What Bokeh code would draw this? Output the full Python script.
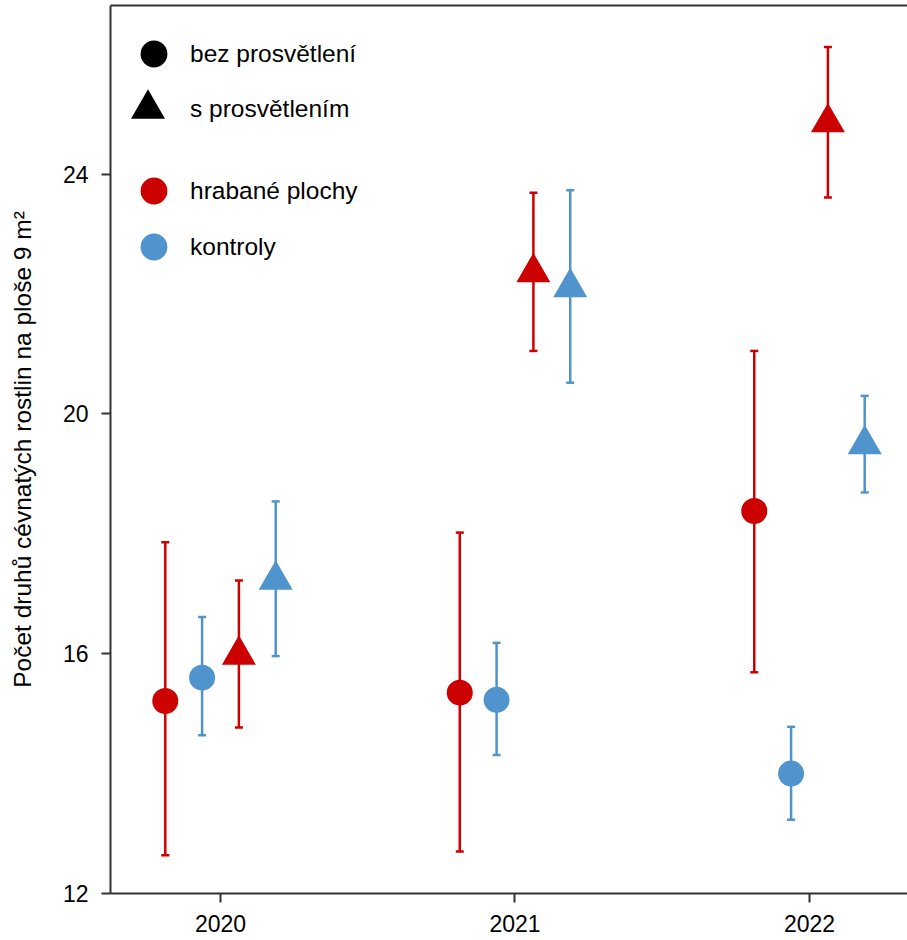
from bokeh.plotting import figure
from bokeh.models import (ColumnDataSource, Range1d, FixedTicker, LinearAxis,
                          Whisker, TeeHead, Legend, LegendItem)
from bokeh.transform import dodge
from bokeh.embed import file_html
from bokeh.resources import INLINE

# ---------------- data ----------------
years = [2020, 2021, 2022]

# hrabané plochy, bez prosvětlení (red circles)
red_bez_mean = [15.21, 15.35, 18.38]
red_bez_lo = [12.64, 12.70, 15.69]
red_bez_hi = [17.86, 18.02, 21.05]

# kontroly, bez prosvětlení (blue circles)
blue_bez_mean = [15.60, 15.23, 14.00]
blue_bez_lo = [14.64, 14.31, 13.23]
blue_bez_hi = [16.61, 16.18, 14.78]

# hrabané plochy, s prosvětlením (red triangles)
red_s_mean = [15.98, 22.36, 24.86]
red_s_lo = [14.77, 21.05, 23.61]
red_s_hi = [17.22, 23.69, 26.12]

# kontroly, s prosvětlením (blue triangles)
blue_s_mean = [17.23, 22.11, 19.49]
blue_s_lo = [15.96, 20.52, 18.69]
blue_s_hi = [18.54, 23.73, 20.30]

x_ticks = [2020, 2021, 2022]
y_ticks = [12, 16, 20, 24]
legend_labels = ["bez prosvětlení", "s prosvětlením", "hrabané plochy", "kontroly"]
y_label = "Počet druhů cévnatých rostlin na ploše 9 m²"

RED = "#CD0000"
BLUE = "#4F94CD"
AXIS = "#333333"
FONT = "Liberation Sans"

p = figure(width=907, height=940,
           x_range=Range1d(2019.6265, 2022.3328),
           y_range=Range1d(12, 26.812),
           output_backend="svg", toolbar_location=None,
           min_border_left=110, min_border_right=0,
           min_border_top=5, min_border_bottom=47)
p.grid.visible = False
p.outline_line_color = None
p.background_fill_color = "white"
p.border_fill_color = "white"

series = [
    (red_bez_mean, red_bez_lo, red_bez_hi, RED, "circle", 26, -0.1875),
    (blue_bez_mean, blue_bez_lo, blue_bez_hi, BLUE, "circle", 26, -0.0625),
    (red_s_mean, red_s_lo, red_s_hi, RED, "triangle", 34, 0.0625),
    (blue_s_mean, blue_s_lo, blue_s_hi, BLUE, "triangle", 34, 0.1875),
]

for mean, lo, hi, col, marker, size, off in series:
    src = ColumnDataSource(dict(year=years, mean=mean, lo=lo, hi=hi))
    xs = dodge("year", off, range=p.x_range)
    w = Whisker(source=src, base=xs, lower="lo", upper="hi",
                line_color=col, line_width=2.5, level="underlay",
                upper_head=TeeHead(size=8, line_color=col, line_width=2.5),
                lower_head=TeeHead(size=8, line_color=col, line_width=2.5))
    p.add_layout(w)
    p.scatter(x=xs, y="mean", source=src, marker=marker, size=size,
              fill_color=col, line_color=None)

# axes
for ax in (p.xaxis[0], p.yaxis[0]):
    ax.axis_line_color = AXIS
    ax.axis_line_width = 2
    ax.major_tick_line_color = AXIS
    ax.major_tick_line_width = 2
    ax.major_tick_out = 9
    ax.major_tick_in = 0
    ax.minor_tick_line_color = None
    ax.major_label_text_font = FONT
    ax.major_label_text_font_size = "23px"
    ax.major_label_text_color = "black"

p.xaxis.ticker = FixedTicker(ticks=x_ticks)
p.yaxis.ticker = FixedTicker(ticks=y_ticks)
p.xaxis.major_label_standoff = 12
p.yaxis.major_label_standoff = 13
p.yaxis.axis_label = y_label
p.yaxis.axis_label_text_font = FONT
p.yaxis.axis_label_text_font_size = "24.5px"
p.yaxis.axis_label_text_font_style = "normal"
p.yaxis.axis_label_text_color = "black"
p.yaxis.axis_label_standoff = 24

top = LinearAxis(ticker=FixedTicker(ticks=[]), axis_line_color=AXIS,
                 axis_line_width=2, major_tick_line_color=None,
                 minor_tick_line_color=None, major_label_text_font_size="0px")
p.add_layout(top, "above")

# legend keys (renderers with a single NaN point: never drawn in the plot)
nan = float("nan")
r_c = p.scatter(x=[nan], y=[nan], marker="circle", fill_color="black", line_color=None)
r_t = p.scatter(x=[nan], y=[nan], marker="triangle", fill_color="black", line_color=None)
r_r = p.scatter(x=[nan], y=[nan], marker="circle", fill_color=RED, line_color=None)
r_b = p.scatter(x=[nan], y=[nan], marker="circle", fill_color=BLUE, line_color=None)

legend_specs = [
    (legend_labels[0], r_c, 67, (10, 806), 3),
    (legend_labels[1], r_t, 85, (-5, 742), 0),
    (legend_labels[2], r_r, 67, (10, 669), 3),
    (legend_labels[3], r_b, 67, (10, 613), 3),
]
for lab, rend, gw, loc, stand in legend_specs:
    leg = Legend(items=[LegendItem(label=lab, renderers=[rend])],
                 location=loc, glyph_width=gw, glyph_height=gw,
                 label_standoff=stand, padding=0, spacing=0, margin=0,
                 border_line_color=None, background_fill_alpha=0,
                 label_text_font=FONT, label_text_font_size="24.5px",
                 label_text_color="black")
    p.add_layout(leg, "center")

open("out.html", "w").write(file_html(p, INLINE))
